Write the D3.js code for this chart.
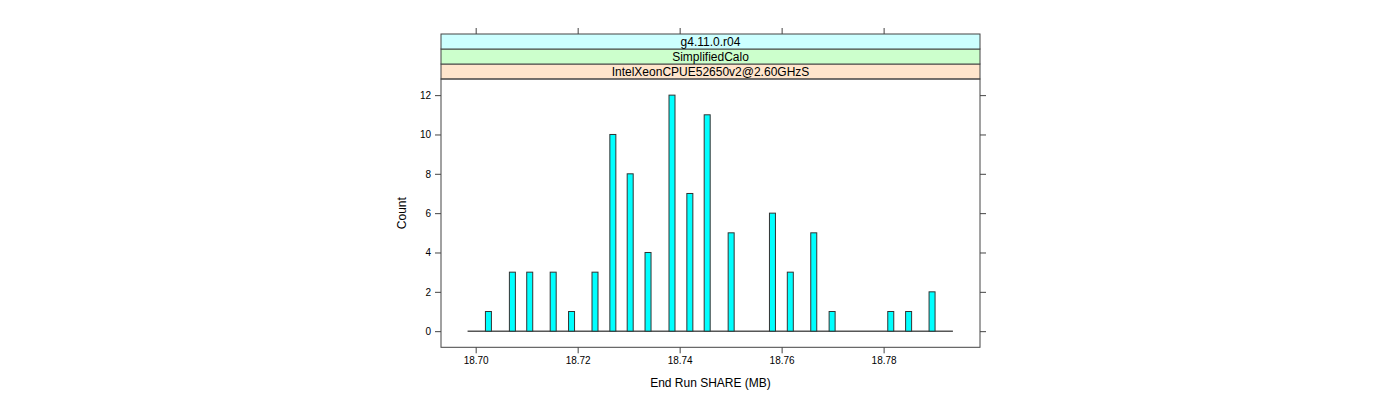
<!DOCTYPE html>
<html><head><meta charset="utf-8">
<script src="https://cdn.jsdelivr.net/npm/d3@7"></script>
<style>body{margin:0;background:#fff}svg{display:block}text{font-family:"Liberation Sans",Arial,sans-serif}</style>
</head><body>
<script>
const shareMB = [18.7025,18.7072,18.7106,18.7152,18.7188,18.7234,18.7269,18.7303,18.7338,18.7385,18.7420,18.7454,18.7501,18.7582,18.7617,18.7663,18.7699,18.7814,18.7849,18.7895];
const counts  = [1,3,3,3,1,3,10,8,4,12,7,11,5,6,3,5,1,1,1,2];
const xTicks = [18.70,18.72,18.74,18.76,18.78];
const yTicks = [0,2,4,6,8,10,12];
const strips = ["IntelXeonCPUE52650v2@2.60GHzS","SimplifiedCalo","g4.11.0.r04"];
const stripColors = ["#ffe5cc","#ccffcc","#ccffff"];
const xLabel = "End Run SHARE (MB)";
const yLabel = "Count";

const W=1400,H=400;
const L=441,R=980,T=79,B=347.3,stripH=15;
const svg=d3.select("body").append("svg").attr("width",W).attr("height",H);
const x=d3.scaleLinear().domain([18.6932,18.7989]).range([L,R]);
const y=d3.scaleLinear().domain([-0.82,12.82]).range([B,T]);
const ax="#444";

// strips
strips.forEach((s,i)=>{
  const yy=T-(i+1)*stripH;
  svg.append("rect").attr("x",L).attr("y",yy).attr("width",R-L).attr("height",stripH)
    .attr("fill",stripColors[i]).attr("stroke",ax).attr("stroke-width",1);
  svg.append("text").attr("x",(L+R)/2).attr("y",yy+stripH/2+4).attr("text-anchor","middle")
    .attr("font-size",12).attr("fill","#000").text(s);
});
// panel border
svg.append("rect").attr("x",L).attr("y",T).attr("width",R-L).attr("height",B-T)
  .attr("fill","none").attr("stroke",ax).attr("stroke-width",1);

// baseline
const ext=d3.extent(shareMB), pad=(ext[1]-ext[0])*0.047;
svg.append("line").attr("x1",x(ext[0]-pad)).attr("x2",x(ext[1]+pad))
  .attr("y1",y(0)).attr("y2",y(0)).attr("stroke","#000").attr("stroke-width",1);

// bars
svg.append("g").selectAll("rect").data(shareMB).join("rect")
  .attr("x",d=>x(d)-3).attr("width",6)
  .attr("y",(d,i)=>y(counts[i])).attr("height",(d,i)=>y(0)-y(counts[i]))
  .attr("fill","#00ffff").attr("stroke","#333").attr("stroke-width",1);

// axes
const tk=6;
const xb=svg.append("g").attr("transform",`translate(0,${B})`)
  .call(d3.axisBottom(x).tickValues(xTicks).tickSize(tk).tickSizeOuter(0).tickPadding(4).tickFormat(d3.format(".2f")));
const xt=svg.append("g").attr("transform",`translate(0,${T-3*stripH})`)
  .call(d3.axisTop(x).tickValues(xTicks).tickSize(tk).tickSizeOuter(0).tickFormat(""));
const yl=svg.append("g").attr("transform",`translate(${L},0)`)
  .call(d3.axisLeft(y).tickValues(yTicks).tickSize(tk).tickSizeOuter(0).tickPadding(4));
const yr=svg.append("g").attr("transform",`translate(${R},0)`)
  .call(d3.axisRight(y).tickValues(yTicks).tickSize(tk).tickSizeOuter(0).tickFormat(""));
[xb,xt,yl,yr].forEach(g=>{
  g.select(".domain").remove();
  g.selectAll(".tick line").attr("stroke",ax);
  g.selectAll(".tick text").attr("font-size",10).attr("fill","#000").attr("font-family","Liberation Sans, Arial, sans-serif");
});

svg.append("text").attr("x",(L+R)/2).attr("y",387).attr("text-anchor","middle")
  .attr("font-size",12).text(xLabel);
svg.append("text").attr("transform",`translate(406,${(T+B)/2}) rotate(-90)`).attr("text-anchor","middle")
  .attr("font-size",12).text(yLabel);
</script>
</body></html>
